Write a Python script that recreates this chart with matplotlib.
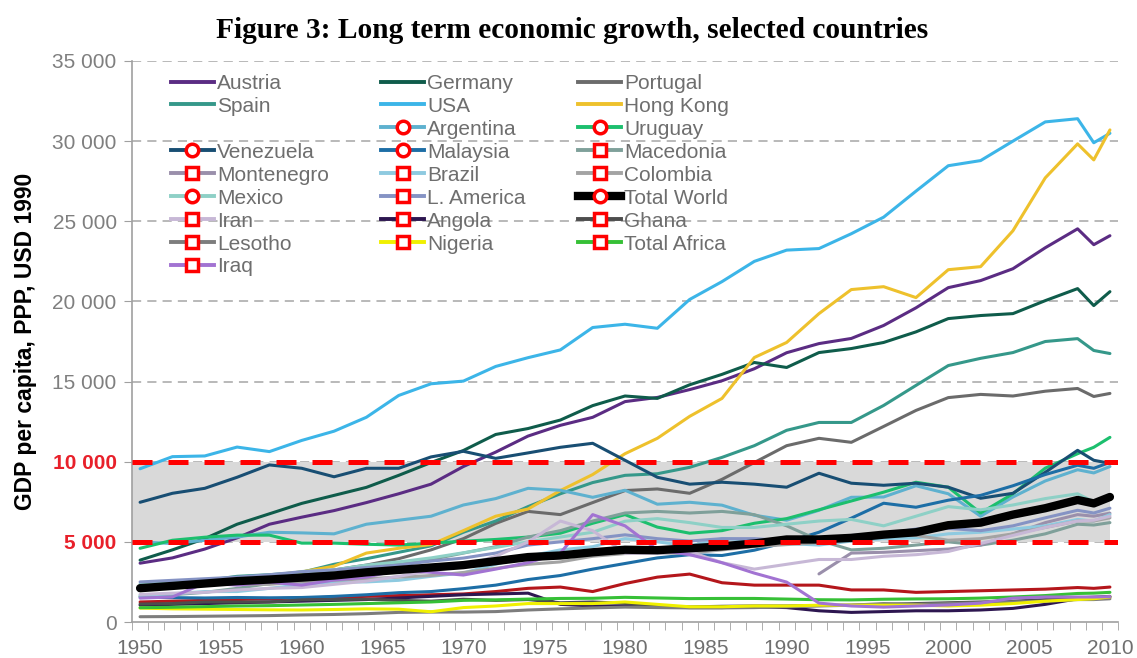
import numpy as np
import matplotlib
matplotlib.use('Agg')
from matplotlib import pyplot as plt
from matplotlib.lines import Line2D

# years on the chart (every 2nd year, plus 2009)
years = list(range(1950, 2009, 2)) + [2009, 2010]
nan = np.nan

austria = [3670, 4000, 4550, 5250, 6100, 6540, 6950, 7450, 8000, 8600, 9700, 10600, 11600, 12270, 12770, 13750,
           14010, 14500, 15050, 15800, 16800, 17370, 17690, 18500, 19600, 20860, 21300, 22040, 23350, 24530, 23540, 24100]
germany = [3860, 4500, 5200, 6100, 6750, 7400, 7900, 8400, 9150, 9950, 10700, 11700, 12070, 12600, 13500, 14100,
           13950, 14800, 15450, 16190, 15880, 16810, 17060, 17440, 18100, 18930, 19120, 19240, 20050, 20800, 19740, 20610]
portugal = [2090, 2150, 2300, 2450, 2600, 2950, 3250, 3550, 3950, 4500, 5200, 6150, 6900, 6700, 7450, 8200,
            8300, 8030, 8900, 9950, 11000, 11460, 11210, 12200, 13200, 14000, 14200, 14100, 14400, 14570, 14070, 14260]
spain = [2190, 2400, 2580, 2850, 2950, 3100, 3600, 3950, 4350, 4750, 5600, 6300, 7200, 8000, 8700, 9150,
         9250, 9650, 10270, 11000, 11960, 12450, 12450, 13510, 14760, 16000, 16450, 16810, 17500, 17680, 16940, 16750]
usa = [9561, 10316, 10359, 10914, 10631, 11328, 11905, 12773, 14134, 14863, 15030, 15944, 16491, 16975, 18373, 18577,
       18325, 20123, 21236, 22499, 23201, 23298, 24224, 25257, 26880, 28467, 28787, 30002, 31200, 31400, 29899, 30491]
hong_kong = [2220, 2350, 2500, 2700, 2900, 3130, 3480, 4300, 4600, 4830, 5700, 6600, 7050, 8200, 9200, 10500,
             11460, 12830, 13950, 16500, 17440, 19240, 20740, 20920, 20240, 21980, 22170, 24410, 27710, 29830, 28830, 30700]
unnamed = [1250, 1300, 1350, 1400, 1450, 1500, 1550, 1600, 1650, 1700, 1750, 1900, 2100, 2180, 1900, 2400,
           2800, 2990, 2450, 2300, 2300, 2300, 2000, 2000, 1850, 1900, 1950, 2000, 2050, 2150, 2100, 2180]
argentina = [4990, 4900, 5100, 5300, 5600, 5560, 5500, 6100, 6350, 6600, 7300, 7700, 8340, 8220, 7780, 8220,
             7350, 7470, 7290, 6660, 6350, 6970, 7780, 7800, 8500, 8000, 6600, 7800, 8800, 9500, 9300, 9700]
uruguay = [4600, 5100, 5290, 5420, 5420, 4920, 4920, 4850, 4800, 4920, 5040, 5150, 5300, 5540, 6160, 6700,
           5920, 5540, 5700, 6160, 6450, 7000, 7550, 8100, 8720, 8410, 6800, 8000, 9600, 10500, 10900, 11520]
venezuela = [7470, 8030, 8340, 9030, 9800, 9590, 9060, 9590, 9590, 10300, 10650, 10210, 10550, 10900, 11150, 10090,
             9030, 8600, 8720, 8600, 8410, 9280, 8660, 8530, 8660, 8410, 7720, 8030, 9340, 10710, 10090, 9900]
malaysia = [1560, 1520, 1500, 1530, 1510, 1530, 1600, 1700, 1830, 1900, 2080, 2300, 2650, 2900, 3300, 3650,
            4000, 4200, 4150, 4480, 4980, 5600, 6480, 7410, 7160, 7600, 7900, 8500, 9200, 9780, 9590, 9960]
macedonia = [1600, 1700, 1850, 2100, 2400, 2700, 2900, 3400, 3700, 3900, 4300, 4700, 5300, 5700, 6300, 6800,
             6900, 6800, 6900, 6700, 6000, 5100, 4500, 4600, 4800, 5000, 4800, 5100, 5500, 6100, 6050, 6200]
montenegro = [nan] * 21 + [3000, 4300, 4350, 4450, 4550, 4800, 5500, 6200, 6700, 6600, 6790]
brazil = [1670, 1760, 1900, 1900, 2100, 2330, 2500, 2500, 2600, 2850, 3060, 3600, 4100, 4500, 4700, 5200,
          5000, 4750, 5200, 5100, 4900, 4800, 5050, 5200, 5250, 5500, 5600, 5800, 6000, 6400, 6300, 6700]
colombia = [2150, 2200, 2350, 2350, 2350, 2500, 2600, 2700, 2800, 2900, 3090, 3350, 3600, 3750, 4100, 4270,
            4300, 4300, 4500, 4700, 4830, 4950, 5250, 5400, 5400, 5100, 5200, 5500, 5900, 6300, 6300, 6500]
mexico = [2370, 2450, 2500, 2650, 2800, 3150, 3250, 3550, 3750, 4000, 4320, 4650, 5000, 5300, 5600, 6290,
          6450, 6200, 5900, 5900, 6100, 6300, 6400, 6000, 6600, 7200, 7000, 7300, 7700, 8000, 7500, 7700]
latin_america = [2500, 2600, 2700, 2800, 2950, 3140, 3250, 3400, 3550, 3800, 3990, 4300, 4800, 5000, 5200, 5440,
                 5200, 5050, 5200, 5200, 5070, 5150, 5400, 5500, 5800, 5840, 5700, 6000, 6500, 6970, 6800, 7100]
total_world = [2110, 2250, 2400, 2550, 2650, 2770, 2900, 3100, 3250, 3400, 3550, 3800, 4050, 4150, 4350, 4510,
               4480, 4600, 4720, 4900, 5150, 5150, 5250, 5450, 5600, 6040, 6200, 6700, 7100, 7614, 7400, 7800]
iran = [1720, 1800, 1850, 2000, 2100, 2150, 2350, 2550, 2850, 3200, 3480, 4100, 5000, 6300, 5700, 4300,
        4300, 4400, 3700, 3300, 3600, 3900, 3900, 4100, 4200, 4400, 4900, 5400, 5900, 6300, 6350, 6600]
angola = [1050, 1100, 1150, 1200, 1250, 1300, 1350, 1400, 1500, 1600, 1700, 1750, 1800, 1100, 1000, 1000,
          950, 900, 900, 950, 900, 700, 600, 650, 700, 700, 750, 850, 1100, 1450, 1500, 1560]
ghana = [1120, 1150, 1250, 1250, 1250, 1380, 1400, 1420, 1350, 1300, 1420, 1350, 1400, 1200, 1250, 1160,
         1000, 940, 980, 1000, 1000, 1030, 1050, 1100, 1150, 1200, 1250, 1300, 1400, 1500, 1550, 1600]
lesotho = [330, 340, 360, 380, 400, 440, 470, 520, 600, 620, 620, 650, 750, 820, 880, 930,
           900, 880, 880, 900, 950, 1000, 1050, 1150, 1100, 1150, 1200, 1250, 1300, 1400, 1400, 1450]
nigeria = [870, 820, 800, 780, 760, 750, 780, 820, 800, 640, 900, 1000, 1150, 1150, 1150, 1250,
           1100, 950, 950, 1000, 1000, 1050, 1050, 1050, 1050, 1000, 1050, 1150, 1300, 1400, 1450, 1560]
total_africa = [890, 920, 960, 1000, 1020, 1060, 1100, 1150, 1200, 1250, 1350, 1380, 1430, 1470, 1480, 1540,
                1500, 1460, 1470, 1470, 1430, 1390, 1380, 1420, 1440, 1450, 1490, 1560, 1650, 1780, 1800, 1850]
iraq = [1490, 1560, 2430, 2300, 2490, 2300, 2620, 2800, 3240, 3100, 2930, 3300, 3700, 4300, 6700, 6000,
        4500, 4200, 3700, 3050, 2490, 1180, 1000, 930, 1000, 1060, 1180, 1490, 1560, 1560, 1560, 1580]

band_low, band_high = 5000, 10000

# (label, values, colour, line width, legend marker)
series = [
    ('Austria', austria, '#5b2c83', 2.2, None),
    ('Germany', germany, '#0f5c4b', 2.2, None),
    ('Portugal', portugal, '#6b6b6b', 2.2, None),
    ('Spain', spain, '#35988a', 2.2, None),
    ('USA', usa, '#3cb5e8', 2.2, None),
    ('Hong Kong', hong_kong, '#eec12c', 2.2, None),
    ('', unnamed, '#b4161b', 2.2, None),
    ('Argentina', argentina, '#5eb1cf', 2.2, 'o'),
    ('Uruguay', uruguay, '#1cbf6e', 2.2, 'o'),
    ('Venezuela', venezuela, '#184e73', 2.2, 'o'),
    ('Malaysia', malaysia, '#1d6ea6', 2.2, 'o'),
    ('Macedonia', macedonia, '#7fa09a', 2.2, 's'),
    ('Montenegro', montenegro, '#9a8fab', 2.2, 's'),
    ('Brazil', brazil, '#8ecae0', 2.2, 's'),
    ('Colombia', colombia, '#a3a3a3', 2.2, 's'),
    ('Mexico', mexico, '#8ed0c6', 2.2, 'o'),
    ('L. America', latin_america, '#8593c4', 2.2, 's'),
    ('Iran', iran, '#c7b8d6', 2.2, 's'),
    ('Angola', angola, '#2d1650', 2.2, 's'),
    ('Ghana', ghana, '#4d4d4d', 2.2, 's'),
    ('Lesotho', lesotho, '#7d7d7d', 2.2, 's'),
    ('Nigeria', nigeria, '#f0f000', 2.2, 's'),
    ('Total Africa', total_africa, '#36c036', 2.2, 's'),
    ('Iraq', iraq, '#a273d2', 2.2, 's'),
    ('Total World', total_world, '#000000', 6.0, 'o'),
]

plt.rcParams['font.family'] = ['Liberation Sans', 'DejaVu Sans']

fig = plt.figure(figsize=(11.37, 6.58), dpi=100)
ax = fig.add_axes([0.1161, 0.0547, 0.8672, 0.8526])

ax.fill_between([1949.5, 2010], band_low, band_high, color='#d9d9d9', zorder=1, lw=0)
for v in range(5000, 35001, 5000):
    ax.axhline(v, color='#a6a6a6', lw=1.1, ls=(0, (6, 4)), zorder=0.5)

handles = {}
for name, vals, col, lw, mk in series:
    ax.plot(years, vals, color=col, lw=lw, solid_capstyle='round', zorder=3)
    if name:
        if mk:
            h = Line2D([], [], color=col, lw=2.8 if name != 'Total World' else 6,
                       marker=mk, ms=9, mfc='white', mec='#ff0000', mew=2.5)
        else:
            h = Line2D([], [], color=col, lw=2.8)
        handles[name] = h
handles[''] = Line2D([], [], color='none')

for v in (band_low, band_high):
    ax.axhline(v, color='#ff0000', lw=3.6, ls=(0, (4.0, 3.2)), zorder=4)

ax.set_xlim(1949.5, 2010.5)
ax.set_ylim(0, 35000)

ax.set_xticks(range(1950, 2011, 5))
ax.set_xticks(np.arange(1949.5, 2011, 1), minor=True)
ax.tick_params(axis='x', which='major', length=0, pad=12, labelsize=15, labelcolor='#6f6f6f')
ax.tick_params(axis='x', which='minor', length=6, color='#a0a0a0')

yt = list(range(0, 35001, 5000))
ax.set_yticks(yt)
ax.set_yticklabels([f'{v:,}'.replace(',', ' ') for v in yt])
ax.tick_params(axis='y', length=6, color='#a0a0a0', labelsize=15, labelcolor='#7f7f7f', pad=5)
for lab in ax.get_yticklabels():
    if lab.get_text() in ('5 000', '10 000'):
        lab.set_color('#e8202a')
        lab.set_fontweight('bold')

for s in ('top', 'right'):
    ax.spines[s].set_visible(False)
for s in ('left', 'bottom'):
    ax.spines[s].set_color('#a0a0a0')
    ax.spines[s].set_linewidth(1.2)

ax.set_ylabel('GDP per capita, PPP, USD 1990', fontsize=16.5, fontweight='bold', labelpad=11)

order = ['Austria', 'Spain', '', 'Venezuela', 'Montenegro', 'Mexico', 'Iran', 'Lesotho', 'Iraq',
         'Germany', 'USA', 'Argentina', 'Malaysia', 'Brazil', 'L. America', 'Angola', 'Nigeria',
         'Portugal', 'Hong Kong', 'Uruguay', 'Macedonia', 'Colombia', 'Total World', 'Ghana', 'Total Africa']
leg = ax.legend([handles[n] for n in order], order, ncol=3, loc='upper left',
                bbox_to_anchor=(0.031, 0.992), frameon=False, fontsize=15, labelcolor='#6e6e6e',
                handlelength=2.07, handletextpad=0.15, columnspacing=2.5, labelspacing=0.19,
                borderaxespad=0)
leg.set_zorder(5)

fig.text(0.503, 0.954, 'Figure 3: Long term economic growth, selected countries', ha='center', va='center',
         fontsize=21.2, fontweight='bold', family='Liberation Serif')

fig.savefig('out.png', dpi=100)
